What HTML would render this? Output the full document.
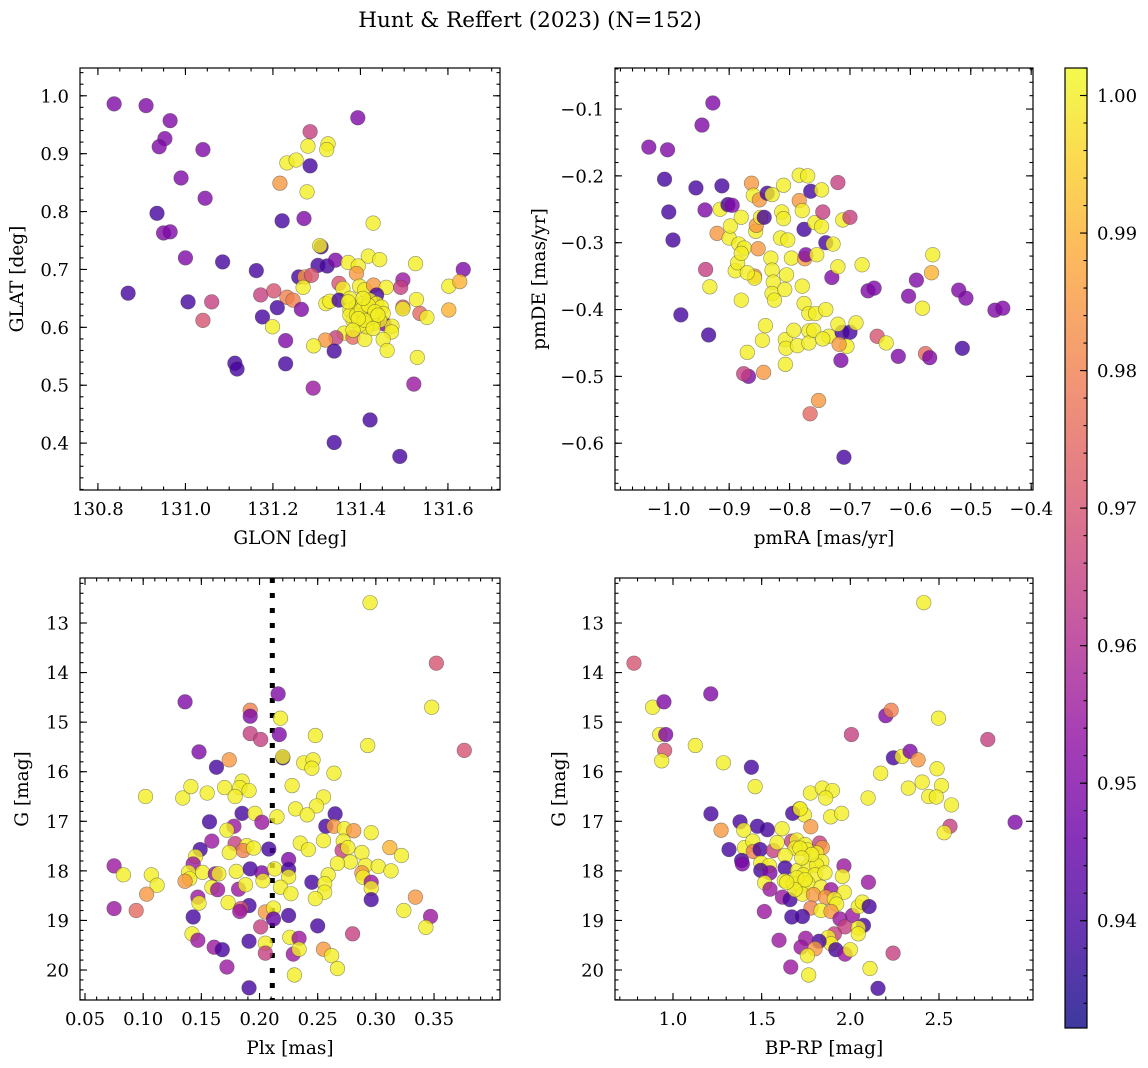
<!DOCTYPE html>
<html>
<head>
<meta charset="utf-8">
<style>
  html,body{margin:0;padding:0;background:#fff;}
  svg{display:block;}
  text{font-family:"DejaVu Serif","Liberation Serif",serif;fill:#000;}
</style>
</head>
<body>
<svg id="fig" width="1148" height="1068" viewBox="0 0 1148 1068" xmlns="http://www.w3.org/2000/svg">
  <text x="530" y="27" font-size="21.5" text-anchor="middle">Hunt &amp; Reffert (2023) (N=152)</text>
</svg>
<script>
// ---------- Panel 1: GLON vs GLAT ----------
const skyGlon = [130.837,130.910,130.965,130.953,130.940,131.040,130.990,131.045,130.935,130.950,130.965,131.000,131.085,130.869,131.006,131.060,131.040,131.113,131.118,131.216,131.232,131.253,131.280,131.285,131.285,131.278,131.326,131.323,131.394,131.340,131.422,131.490,
131.221,131.271,131.429,131.310,131.307,131.162,131.303,131.324,131.343,131.372,131.395,131.418,131.444,131.526,131.635,131.259,131.273,131.288,131.269,131.391,131.351,131.360,131.398,131.410,131.430,131.459,131.497,131.492,131.602,131.627,131.172,131.202,131.232,131.246,131.210,131.265,131.176,131.199,131.321,131.330,131.351,131.376,131.437,131.528,131.497,131.497,131.536,131.552,131.602,131.454,131.472,131.471,131.452,131.461,131.363,131.383,131.344,131.320,131.293,131.410,131.340,131.229,131.229,131.530,131.292,131.522,
131.376,131.391,131.406,131.421,131.437,131.448,131.452,131.444,131.429,131.414,131.398,131.383,131.376,131.391,131.410,131.425,131.421,131.402,131.418,131.433,131.410,131.395,131.440,131.406,131.429,131.383,131.372];
const skyGlat = [0.986,0.983,0.957,0.926,0.912,0.907,0.858,0.823,0.797,0.763,0.765,0.720,0.713,0.659,0.644,0.644,0.612,0.538,0.528,0.849,0.884,0.889,0.913,0.938,0.879,0.834,0.917,0.907,0.962,0.401,0.440,0.377,
0.784,0.788,0.780,0.739,0.741,0.698,0.707,0.706,0.716,0.712,0.706,0.723,0.717,0.710,0.700,0.687,0.687,0.690,0.669,0.693,0.676,0.667,0.671,0.665,0.673,0.669,0.682,0.669,0.671,0.679,0.656,0.663,0.652,0.647,0.634,0.631,0.618,0.601,0.641,0.645,0.647,0.650,0.656,0.648,0.635,0.632,0.624,0.617,0.630,0.606,0.602,0.592,0.579,0.560,0.590,0.583,0.582,0.578,0.568,0.579,0.559,0.577,0.537,0.548,0.495,0.502,
0.630,0.635,0.641,0.647,0.641,0.635,0.624,0.612,0.607,0.601,0.604,0.612,0.621,0.621,0.624,0.618,0.630,0.630,0.638,0.627,0.612,0.615,0.621,0.650,0.598,0.595,0.644];
const skyProb = [.95,.95,.95,.95,.95,.95,.95,.95,.94,.95,.95,.95,.94,.94,.94,.965,.97,.94,.94,.985,1,1,1,.965,.94,1,1,1,.95,.94,.94,.94,
.94,.95,1,.94,1,.94,.94,.94,.95,1,1,1,1,1,.95,.94,.985,.97,1,.985,.97,1,1,1,.985,1,.955,.965,1,.99,.965,.97,.98,.98,.94,.95,.94,1,1,1,.94,1,.94,1,.97,1,.975,1,.99,.95,1,1,1,1,1,.975,.965,.985,1,1,.94,.95,.94,1,.955,.955,
1,1,1,1,1,1,1,1,1,1,1,1,1,1,1,1,1,1,1,1,1,1,1,1,1,1,1];

// ---------- Panel 2: pmRA vs pmDE ----------
const pmRA = [-1.033,-1.002,-1.007,-0.993,-0.980,-1.000,-0.955,-0.945,-0.927,-0.940,-0.939,-0.934,-0.932,-0.920,-0.915,-0.912,-0.902,-0.900,-0.898,-0.895,-0.890,-0.886,-0.884,-0.880,-0.880,-0.875,-0.870,-0.868,-0.876,-0.863,-0.860,-0.856,-0.852,-0.855,-0.850,-0.848,-0.858,-0.858,-0.843,-0.845,-0.842,-0.837,-0.829,-0.831,-0.829,-0.827,-0.829,-0.825,-0.840,-0.810,-0.813,-0.810,-0.815,-0.803,-0.805,-0.808,-0.807,-0.807,-0.806,-0.797,-0.793,-0.787,-0.784,-0.784,-0.779,-0.775,-0.776,-0.773,-0.779,-0.776,-0.768,-0.768,-0.768,-0.760,-0.757,-0.755,-0.758,-0.765,-0.770,-0.747,-0.747,-0.740,-0.735,-0.745,-0.766,-0.752,-0.745,-0.740,-0.730,-0.728,-0.720,-0.720,-0.712,-0.713,-0.700,-0.705,-0.715,-0.718,-0.720,-0.710,-0.700,-0.690,-0.680,-0.670,-0.660,-0.655,-0.640,-0.620,-0.603,-0.590,-0.580,-0.575,-0.568,-0.565,-0.563,-0.520,-0.508,-0.514,-0.460,-0.447,-0.880,-0.870];
const pmDE = [-0.157,-0.161,-0.205,-0.296,-0.408,-0.254,-0.218,-0.124,-0.091,-0.251,-0.340,-0.438,-0.366,-0.286,-0.250,-0.215,-0.243,-0.293,-0.275,-0.244,-0.342,-0.330,-0.302,-0.386,-0.262,-0.308,-0.464,-0.500,-0.496,-0.211,-0.229,-0.283,-0.309,-0.274,-0.236,-0.262,-0.350,-0.353,-0.494,-0.446,-0.262,-0.226,-0.228,-0.323,-0.341,-0.359,-0.376,-0.386,-0.424,-0.214,-0.254,-0.264,-0.293,-0.296,-0.348,-0.370,-0.445,-0.482,-0.458,-0.323,-0.431,-0.454,-0.237,-0.199,-0.252,-0.324,-0.280,-0.318,-0.365,-0.391,-0.406,-0.432,-0.450,-0.431,-0.406,-0.318,-0.270,-0.223,-0.200,-0.221,-0.276,-0.400,-0.440,-0.444,-0.556,-0.536,-0.254,-0.300,-0.352,-0.302,-0.336,-0.210,-0.266,-0.434,-0.434,-0.455,-0.476,-0.452,-0.422,-0.621,-0.262,-0.420,-0.333,-0.372,-0.368,-0.440,-0.450,-0.470,-0.380,-0.356,-0.398,-0.466,-0.472,-0.345,-0.318,-0.371,-0.383,-0.458,-0.401,-0.398,-0.316,-0.345];
const pmProb = [.95,.95,.94,.94,.94,.94,.94,.95,.95,.95,.965,.94,1,.985,1,.94,.94,1,1,.95,1,1,1,1,1,1,1,.95,.965,.985,1,1,.985,.985,.985,1,.985,1,.985,1,.94,.94,1,1,1,1,1,1,1,1,1,1,1,1,1,1,1,1,1,1,1,1,.985,1,1,.985,.94,.95,1,1,1,1,1,1,1,1,1,.94,1,1,1,1,1,1,.975,.985,.965,.94,.95,1,1,.965,1,.94,.94,1,.95,.985,1,.94,.965,1,1,.95,.95,.97,1,.95,.95,.95,1,.975,.95,.99,1,.95,.95,.94,.95,.95,1,1];

// ---------- Panel 3: Plx vs G ----------
const plx = [0.295,0.352,0.348,0.376,0.293,0.136,0.216,0.218,0.217,0.192,0.192,0.192,0.201,0.248,0.148,0.174,0.163,0.220,0.220,0.238,0.246,0.245,0.264,0.102,0.134,0.141,0.155,0.170,0.185,0.183,0.191,0.179,0.228,0.255,0.249,0.231,0.241,0.185,0.196,0.157,0.202,0.215,0.265,0.257,0.264,0.273,0.281,0.296,0.178,0.172,0.159,0.179,0.189,0.186,0.195,0.174,0.149,0.145,0.208,0.235,0.242,0.255,0.272,0.271,0.276,0.288,0.312,0.322,0.225,0.278,0.267,0.291,0.302,0.313,0.075,0.083,0.107,0.112,0.143,0.139,0.140,0.136,0.151,0.162,0.165,0.180,0.192,0.202,0.203,0.213,0.225,0.225,0.245,0.259,0.256,0.288,0.289,0.296,0.296,0.159,0.164,0.182,0.188,0.218,0.227,0.256,0.248,0.296,0.147,0.148,0.173,0.103,0.094,0.075,0.191,0.184,0.183,0.205,0.212,0.212,0.225,0.334,0.324,0.347,0.343,0.143,0.201,0.250,0.280,0.142,0.147,0.191,0.226,0.234,0.205,0.161,0.168,0.205,0.229,0.234,0.255,0.262,0.267,0.172,0.230,0.191];
const gMagPlx = [12.59,13.81,14.70,15.57,15.47,14.59,14.43,14.92,15.25,14.76,14.88,15.23,15.35,15.27,15.60,15.76,15.91,15.72,15.70,15.82,15.76,15.93,16.03,16.50,16.53,16.30,16.43,16.32,16.19,16.32,16.38,16.50,16.28,16.51,16.69,16.75,16.87,16.84,16.84,17.01,17.02,16.91,16.85,17.10,17.10,17.15,17.19,17.23,17.10,17.18,17.40,17.45,17.49,17.59,17.54,17.63,17.57,17.71,17.56,17.44,17.57,17.39,17.40,17.59,17.53,17.63,17.53,17.69,17.77,17.82,17.85,17.89,17.91,18.00,17.90,18.08,18.08,18.29,17.86,18.03,18.16,18.21,18.03,18.06,18.06,18.01,17.96,18.04,18.20,17.96,17.97,18.12,18.23,18.08,18.26,18.04,18.13,18.23,18.35,18.33,18.38,18.37,18.28,18.33,18.46,18.43,18.56,18.58,18.53,18.65,18.64,18.47,18.80,18.76,18.70,18.76,18.82,18.83,18.75,18.97,18.90,18.53,18.80,18.92,19.14,18.93,19.13,19.11,19.27,19.27,19.40,19.42,19.34,19.36,19.46,19.54,19.59,19.66,19.68,19.58,19.58,19.71,19.97,19.94,20.10,20.36];
const plxProb = [1,.97,1,.97,1,.95,.95,1,.95,.98,.95,.965,.965,1,.95,.985,.94,.94,1,1,1,1,1,1,1,1,1,1,1,1,1,1,1,1,1,1,1,.94,1,.94,.955,1,.94,.94,.985,1,.985,1,.955,1,.955,.965,1,.98,1,1,.94,1,.94,1,1,1,1,.965,1,1,.99,1,.95,1,1,1,1,1,.955,1,1,1,.955,1,1,.985,1,.955,1,1,.94,.95,1,1,.94,1,.94,1,1,.985,1,.955,1,1,.955,.955,1,1,1,1,1,.94,.955,1,1,.985,.975,.955,.94,.97,.955,.985,1,.945,.94,.985,1,.955,1,.94,.965,.94,.965,1,.955,.94,1,.955,1,.955,.94,.965,.955,1,.985,1,1,.955,1,.94];

// ---------- Panel 4: BP-RP vs G ----------
const bpRp = [2.414,0.780,0.885,0.949,1.213,0.925,0.959,0.953,0.936,1.126,1.284,1.442,1.463,2.006,2.200,2.230,2.497,2.775,2.243,2.292,2.337,2.382,2.489,2.171,2.327,2.405,2.514,2.442,2.485,2.570,2.100,2.929,2.562,2.529,1.775,1.842,1.899,1.861,1.713,1.741,1.675,1.889,1.951,1.214,1.378,1.476,1.532,1.271,1.399,1.615,1.777,1.316,1.403,1.450,1.453,1.491,1.566,1.587,1.669,1.698,1.745,1.754,1.688,1.632,1.827,1.842,1.810,1.839,1.387,1.391,1.495,1.543,1.495,1.547,1.632,1.703,1.763,1.810,1.735,1.801,1.857,1.964,1.955,1.517,1.547,1.628,1.679,1.722,1.760,1.835,1.891,2.102,1.966,1.617,1.660,1.730,1.792,1.861,1.910,1.923,1.515,1.778,1.835,1.891,1.670,1.730,1.942,2.012,2.045,2.068,2.106,1.970,2.074,2.045,2.045,1.910,1.876,1.891,1.824,1.748,1.598,1.722,1.801,1.758,1.918,1.970,2.000,2.241,1.664,1.765,2.111,2.156,1.717,1.716,1.782,1.726,1.698,1.745,1.688,1.641];
const gMagCol = [12.59,13.81,14.70,14.59,14.43,15.25,15.25,15.57,15.78,15.47,15.82,15.91,16.30,15.25,14.87,14.76,14.92,15.35,15.72,15.69,15.59,15.76,15.94,16.03,16.33,16.21,16.28,16.50,16.51,16.67,16.53,17.02,17.10,17.23,16.43,16.33,16.38,16.53,16.75,16.87,16.84,16.91,16.84,16.85,17.01,17.10,17.17,17.18,17.18,17.15,17.11,17.57,17.53,17.40,17.61,17.57,17.59,17.43,17.40,17.38,17.47,17.57,17.54,17.69,17.44,17.53,17.64,17.81,17.79,17.86,17.84,17.89,17.99,18.04,17.94,17.99,17.91,17.89,18.08,18.08,18.04,17.90,18.11,18.24,18.37,18.20,18.26,18.31,18.25,18.33,18.38,18.23,18.43,18.53,18.58,18.47,18.48,18.53,18.57,18.67,18.82,18.75,18.80,18.82,18.93,18.92,18.97,18.90,18.72,18.63,18.72,19.13,19.10,19.15,19.27,19.27,19.34,19.47,19.42,19.36,19.40,19.54,19.57,19.71,19.59,19.68,19.59,19.66,19.94,20.10,19.97,20.37,16.75,17.54,17.67,17.74,18.14,18.18,18.38,18.23];
const colProb = [1,.97,1,.95,.95,1,.95,.97,1,1,1,.94,1,.965,.95,.98,1,.965,.94,1,.95,.985,1,1,1,1,1,1,1,1,1,.95,.965,1,1,1,1,1,1,1,.94,1,1,.94,.94,.94,.94,.985,1,1,.985,.94,1,1,.98,.94,.965,1,.965,1,1,1,1,1,.965,.985,1,1,.94,.95,1,1,.94,.95,.94,1,1,1,1,1,1,.955,1,1,.955,1,1,1,1,1,.955,.955,1,.955,.94,1,.985,.985,1,1,.955,.98,1,.985,.94,.94,.955,.955,1,1,.94,.965,.94,1,1,.965,1,1,.94,.955,.955,.955,.985,1,.94,.955,1,.965,.955,1,1,.94,1,1,1,1,1,1,1,1];

// ---------- tick labels ----------
const skyXTicks = [130.8,131.0,131.2,131.4,131.6];
const skyYTicks = [0.4,0.5,0.6,0.7,0.8,0.9,1.0];
const pmXTicks = [-1.0,-0.9,-0.8,-0.7,-0.6,-0.5,-0.4];
const pmYTicks = [-0.6,-0.5,-0.4,-0.3,-0.2,-0.1];
const plxXTicks = [0.05,0.10,0.15,0.20,0.25,0.30,0.35];
const gTicks = [13,14,15,16,17,18,19,20];
const colXTicks = [1.0,1.5,2.0,2.5];
const cbarTicks = [0.94,0.95,0.96,0.97,0.98,0.99,1.00];
const plxCut = [0.211];

const svg = document.getElementById('fig');
const NS = 'http://www.w3.org/2000/svg';
const CMIN = 0.9322, CMAX = 1.002;
const TICKFS = 18, LABFS = 18.5;
const plasmaStops = [[13,8,135],[65,4,157],[106,0,168],[143,13,164],[177,42,144],[204,71,120],[225,100,98],[242,132,75],[252,166,54],[252,206,37],[240,249,33]];
function plasma(t){
  t=Math.max(0,Math.min(1,t));
  const f=t*10, i=Math.min(9,Math.floor(f)), r=f-i;
  const a=plasmaStops[i], b=plasmaStops[i+1];
  return 'rgb('+[0,1,2].map(k=>Math.round(a[k]+(b[k]-a[k])*r)).join(',')+')';
}
function el(tag, attrs, parent){
  const e=document.createElementNS(NS,tag);
  for(const k in attrs) e.setAttribute(k,attrs[k]);
  (parent||svg).appendChild(e);
  return e;
}
function fmt(v,dec){ const s=Math.abs(v).toFixed(dec); return (v<0?'\u2212':'')+s; }

function panel(cfg){
  const g=el('g',{});
  
  
  const {L,R,T,B,xmin,xmax,ymin,ymax,inv}=cfg;
  const sx=v=>L+(v-xmin)/(xmax-xmin)*(R-L);
  const sy=v=> inv ? T+(v-ymin)/(ymax-ymin)*(B-T) : B-(v-ymin)/(ymax-ymin)*(B-T);
  if(cfg.vline){
    const ln=el('line',{x1:sx(cfg.vline),x2:sx(cfg.vline),y1:T,y2:B,stroke:'#000','stroke-width':5,'stroke-dasharray':'5 10'},g);
    
    
  }
  const pg=el('g',{},g);
  
  
  for(let i=0;i<cfg.xs.length;i++){
    const c=el('circle',{cx:sx(cfg.xs[i]),cy:sy(cfg.ys[i]),r:7.3,fill:plasma((cfg.cs[i]-CMIN)/(CMAX-CMIN)),'fill-opacity':0.8,stroke:'rgba(60,60,60,0.55)','stroke-width':0.6},pg);
    
    
  }
  const fr=el('rect',{x:L,y:T,width:R-L,height:B-T,fill:'none',stroke:'#000','stroke-width':1.2},g);
  
  
  const tg=el('g',{stroke:'#000','stroke-width':1.1},g);
  const xl=el('g',{},g);
  
  
  cfg.xt.forEach(v=>{
    const x=sx(v);
    el('line',{x1:x,x2:x,y1:B,y2:B-7},tg); el('line',{x1:x,x2:x,y1:T,y2:T+7},tg);
    const t=el('text',{x:x,y:B+25,'font-size':TICKFS,'text-anchor':'middle'},xl);
    t.textContent=fmt(v,cfg.xdec);
    
    
  });
  const xstep=(cfg.xt[1]-cfg.xt[0])/cfg.xminor;
  for(let v=cfg.xt[0]-xstep*Math.ceil((cfg.xt[0]-xmin)/xstep); v<=xmax; v+=xstep){
    const x=sx(v); if(x<L||x>R) continue;
    el('line',{x1:x,x2:x,y1:B,y2:B-3.5},tg); el('line',{x1:x,x2:x,y1:T,y2:T+3.5},tg);
  }
  const yl=el('g',{},g);
  
  
  cfg.yt.forEach(v=>{
    const y=sy(v);
    el('line',{x1:L,x2:L+7,y1:y,y2:y},tg); el('line',{x1:R,x2:R-7,y1:y,y2:y},tg);
    const t=el('text',{x:L-11,y:y+6.5,'font-size':TICKFS,'text-anchor':'end'},yl);
    t.textContent=fmt(v,cfg.ydec);
    
    
  });
  const ystep=(cfg.yt[1]-cfg.yt[0])/5;
  const ylo=Math.min(ymin,ymax), yhi=Math.max(ymin,ymax);
  for(let v=cfg.yt[0]-ystep*Math.ceil((cfg.yt[0]-ylo)/ystep); v<=yhi; v+=ystep){
    const y=sy(v); if(y<T||y>B) continue;
    el('line',{x1:L,x2:L+3.5,y1:y,y2:y},tg); el('line',{x1:R,x2:R-3.5,y1:y,y2:y},tg);
  }
  const xt=el('text',{x:(L+R)/2,y:B+54,'font-size':LABFS,'text-anchor':'middle'},g);
  xt.textContent=cfg.xlabel;
  
  
  const cy=(T+B)/2;
  const yt=el('text',{x:cfg.ylx,y:cy,'font-size':LABFS,'text-anchor':'middle',transform:'rotate(-90 '+cfg.ylx+' '+cy+')'},g);
  yt.textContent=cfg.ylabel;
  
  
}

panel({name:'sky-panel',L:80,R:500,T:68,B:490,xmin:130.759,xmax:131.719,ymin:0.319,ymax:1.048,inv:false,
  xs:skyGlon,ys:skyGlat,cs:skyProb,xt:skyXTicks,yt:skyYTicks,xdec:1,ydec:1,xminor:4,xlabel:'GLON [deg]',ylabel:'GLAT [deg]',ylx:23});
panel({name:'proper-motion-panel',L:615,R:1033,T:68,B:490,xmin:-1.089,xmax:-0.397,ymin:-0.670,ymax:-0.0386,inv:false,
  xs:pmRA,ys:pmDE,cs:pmProb,xt:pmXTicks,yt:pmYTicks,xdec:1,ydec:1,xminor:5,xlabel:'pmRA [mas/yr]',ylabel:'pmDE [mas/yr]',ylx:545});
panel({name:'parallax-panel',L:80,R:500,T:578,B:1000,xmin:0.0457,xmax:0.4067,ymin:12.092,ymax:20.605,inv:true,
  xs:plx,ys:gMagPlx,cs:plxProb,xt:plxXTicks,yt:gTicks,xdec:2,ydec:0,xminor:5,xlabel:'Plx [mas]',ylabel:'G [mag]',ylx:28,vline:plxCut[0]});
panel({name:'cmd-panel',L:615,R:1033,T:578,B:1000,xmin:0.673,xmax:3.03,ymin:12.092,ymax:20.605,inv:true,
  xs:bpRp,ys:gMagCol,cs:colProb,xt:colXTicks,yt:gTicks,xdec:1,ydec:0,xminor:5,xlabel:'BP-RP [mag]',ylabel:'G [mag]',ylx:565});

// ---------- colorbar ----------
(function(){
  const L=1065,R=1087,T=68,B=1028;
  const g=el('g',{});
  
  
  const defs=el('defs',{},g);
  const lg=el('linearGradient',{id:'cbg',x1:0,y1:1,x2:0,y2:0},defs);
  for(let i=0;i<=20;i++){ el('stop',{offset:i/20,'stop-color':plasma(i/20),'stop-opacity':0.8},lg); }
  el('rect',{x:L,y:T,width:R-L,height:B-T,fill:'url(#cbg)',stroke:'#000','stroke-width':1.2},g);
  const sy=v=>B-(v-CMIN)/(CMAX-CMIN)*(B-T);
  cbarTicks.forEach(v=>{
    const y=sy(v);
    el('line',{x1:R,x2:R-7,y1:y,y2:y,stroke:'#000','stroke-width':1.1},g);
    const t=el('text',{x:R+10,y:y+6.5,'font-size':TICKFS},g);
    t.textContent=v.toFixed(2);
    
    
  });
  for(let v=0.934;v<=1.002;v+=0.002){
    const y=sy(v); if(y<T||y>B) continue;
    el('line',{x1:R,x2:R-3.5,y1:y,y2:y,stroke:'#000','stroke-width':1.1},g);
  }
})();
</script>
</body>
</html>
